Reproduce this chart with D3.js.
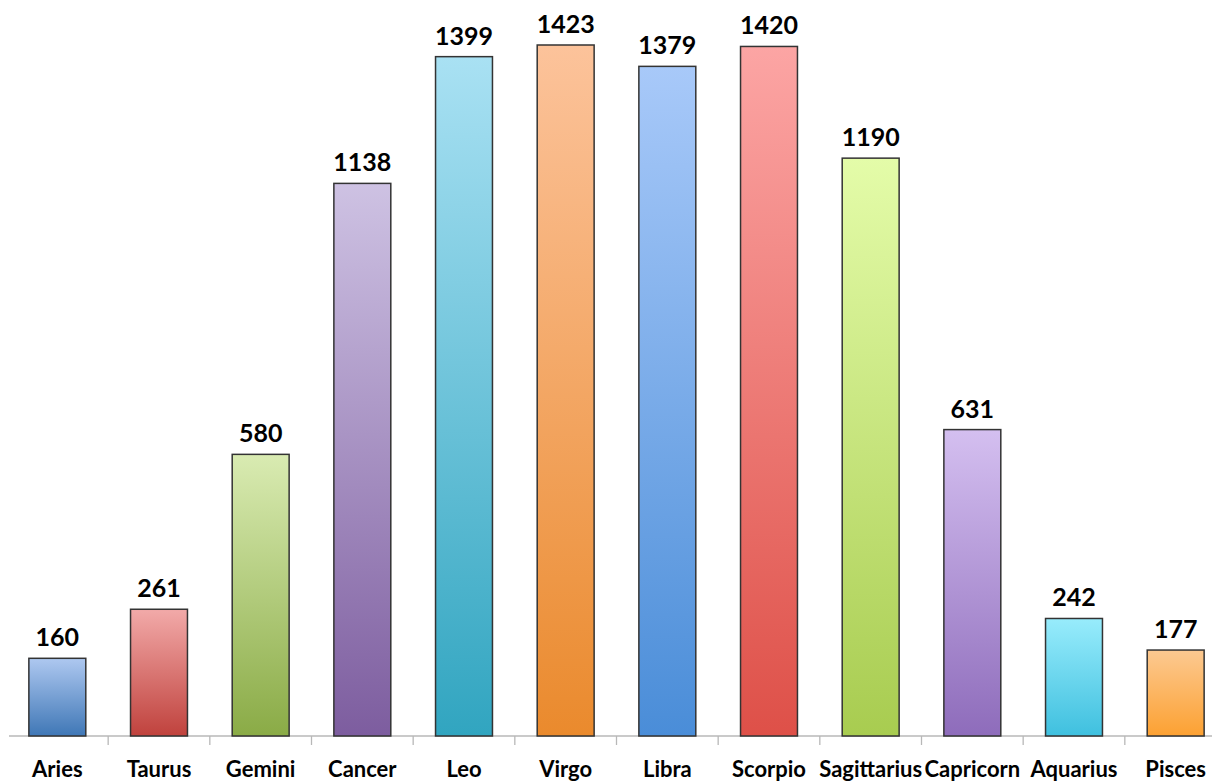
<!DOCTYPE html>
<html><head><meta charset="utf-8">
<script src="https://cdn.jsdelivr.net/npm/d3@7"></script>
<style>html,body{margin:0;padding:0;background:#fff;overflow:hidden}</style>
</head><body>
<svg id="chart" width="1212" height="782"></svg>
<script>
const categories = ["Aries","Taurus","Gemini","Cancer","Leo","Virgo","Libra","Scorpio","Sagittarius","Capricorn","Aquarius","Pisces"];
const values = [160,261,580,1138,1399,1423,1379,1420,1190,631,242,177];
const topColors = ["#aec8f0","#f2aaa9","#d9ebb2","#cec2e3","#a9e1f3","#fcc39b","#a8c9f9","#fca5a4","#e4fca9","#d4bff0","#98ecfc","#fcc991"];
const bottomColors = ["#3f77b6","#c0423d","#8aab46","#7d5d9f","#31a5c0","#ea8a2d","#4a8dd8","#de5048","#a8cc50","#8e6cbb","#3fc0df","#fca132"];

const svg = d3.select("#chart");
const x = d3.scaleBand().domain(categories).range([6.5, 1226.5]).paddingInner(0.44).paddingOuter(0.22);
const y = d3.scaleLinear().domain([0, 1423]).range([736, 45]);

const defs = svg.append("defs");
categories.forEach((c, i) => {
  const g = defs.append("linearGradient").attr("id", "g" + i)
    .attr("x1", 0).attr("y1", 0).attr("x2", 0).attr("y2", 1);
  g.append("stop").attr("offset", "0%").attr("stop-color", topColors[i]);
  g.append("stop").attr("offset", "100%").attr("stop-color", bottomColors[i]);
});

// axis
const axis = d3.axisBottom(x).tickSize(0).tickFormat("");
const ax = svg.append("g").attr("transform", "translate(0,736)").call(axis);
ax.select(".domain").attr("stroke", "#b8b8b8").attr("stroke-width", 1.5).attr("d", "M9,0H1212");
// separator ticks between bands
const step = x.step();
const seps = categories.slice(1).map(c => x(c) - (step - x.bandwidth()) / 2);
svg.append("g").selectAll("line").data(seps).join("line")
  .attr("x1", d => d).attr("x2", d => d).attr("y1", 736).attr("y2", 745)
  .attr("stroke", "#b8b8b8").attr("stroke-width", 1.3);

svg.append("g").selectAll("rect").data(values).join("rect")
  .attr("x", (d, i) => x(categories[i]))
  .attr("width", x.bandwidth())
  .attr("y", d => y(d))
  .attr("height", d => y(0) - y(d))
  .attr("fill", (d, i) => `url(#g${i})`)
  .attr("stroke", "#333").attr("stroke-width", 1.5);

svg.append("g").selectAll("text").data(values).join("text")
  .attr("x", (d, i) => x(categories[i]) + x.bandwidth() / 2)
  .attr("y", d => y(d) - 12)
  .attr("text-anchor", "middle")
  .attr("font-family", "Lato, 'Open Sans', sans-serif")
  .attr("font-weight", "bold")
  .attr("font-size", 25)
  .attr("fill", "#000")
  .text(d => d);

svg.append("g").selectAll("text").data(categories).join("text")
  .attr("x", c => x(c) + x.bandwidth() / 2)
  .attr("y", 777)
  .attr("text-anchor", "middle")
  .attr("font-family", "Lato, 'Open Sans', sans-serif")
  .attr("font-weight", "bold")
  .attr("font-size", 22)
  .attr("fill", "#000")
  .text(c => c);
</script>
</body></html>
